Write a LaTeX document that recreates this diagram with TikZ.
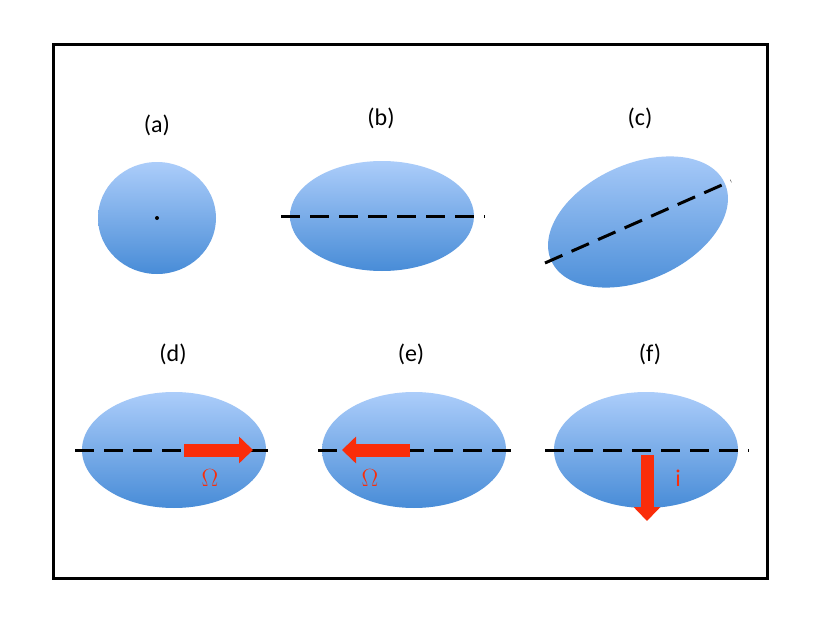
\documentclass[tikz,border=0pt]{standalone}
\usepackage{fontspec}
\setmainfont{Carlito}
\usetikzlibrary{arrows.meta,shapes.geometric}
\definecolor{btop}{RGB}{172,205,250}
\definecolor{bbot}{RGB}{72,140,215}
\definecolor{ared}{RGB}{250,45,10}
\tikzset{
  blob/.style={ellipse,draw=none,top color=btop,bottom color=bbot,inner sep=0pt},
  axisline/.style={line width=3pt,dash pattern=on 19pt off 10pt},
  lbl/.style={font=\fontsize{24}{28}\selectfont},
  redarrow/.style={line width=13pt,ared,-{Triangle[length=14pt,width=26pt]}},
  redtxt/.style={font=\fontsize{24}{28}\selectfont,text=ared}
}
\begin{document}
\begin{tikzpicture}[x=1pt,y=-1pt]
\useasboundingbox[fill=white] (0,0) rectangle (820,626);
\node[draw,line width=3pt,minimum width=714pt,minimum height=533pt,inner sep=0pt] (frame) at (410,311.5) {};
% (a)
\node[blob,minimum width=118pt,minimum height=112pt] (ea) at (157,218) {};
\fill (ea.center) circle (2pt);
\node[lbl] (la) at (157,125) {(a)};
% (b)
\node[blob,minimum width=184pt,minimum height=110pt] (eb) at (382,216) {};
\coordinate (b1) at (281,216); \coordinate (b2) at (485,216);
\draw[axisline] (b1) -- (b2);
\node[lbl] (lb) at (381,118) {(b)};
% (c)
\node[blob,minimum width=190pt,minimum height=116pt,rotate=24] (ec) at (638,222) {};
\coordinate (c1) at (545,263); \coordinate (c2) at (731,181);
\draw[axisline] (c1) -- (c2);
\node[lbl] (lc) at (640,118) {(c)};
% (d)
\node[blob,minimum width=184pt,minimum height=116pt] (ed) at (174,450) {};
\coordinate (d1) at (75,450); \coordinate (d2) at (277,450);
\draw[axisline] (d1) -- (d2);
\coordinate (da) at (184,450); \coordinate (db) at (253,450);
\draw[redarrow] (da) -- (db);
\node[redtxt] (od) at (210,478) {$\Omega$};
\node[lbl] (ld) at (173,354) {(d)};
% (e)
\node[blob,minimum width=184pt,minimum height=116pt] (ee) at (414,450) {};
\coordinate (e1) at (318,450); \coordinate (e2) at (519,450);
\draw[axisline] (e1) -- (e2);
\coordinate (ea1) at (410,450); \coordinate (eb1) at (342,450);
\draw[redarrow] (ea1) -- (eb1);
\node[redtxt] (oe) at (370,478) {$\Omega$};
\node[lbl] (le) at (411,354) {(e)};
% (f)
\node[blob,minimum width=184pt,minimum height=116pt] (ef) at (646,450) {};
\coordinate (f1) at (545,450); \coordinate (f2) at (749,450);
\draw[axisline] (f1) -- (f2);
\coordinate (fa) at (647,455); \coordinate (fb) at (647,521);
\draw[redarrow] (fa) -- (fb);
\node[redtxt] (ifx) at (678,478) {i};
\node[lbl] (lf) at (650,354) {(f)};
\end{tikzpicture}
\end{document}
